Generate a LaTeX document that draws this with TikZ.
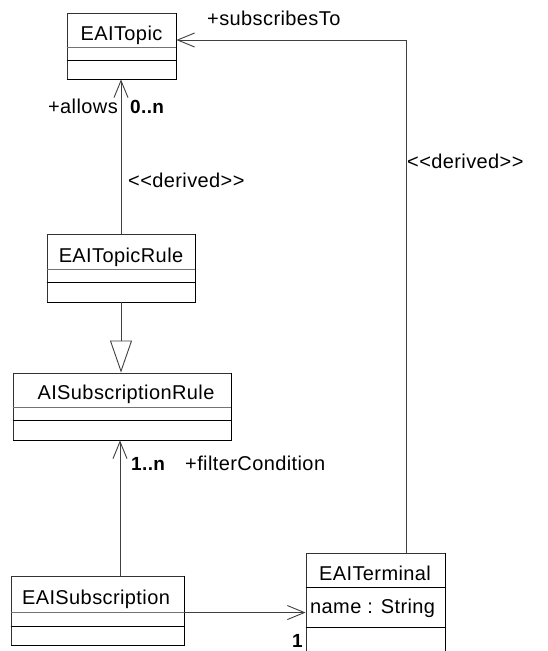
\documentclass[tikz,border=0pt]{standalone}
\usepackage{fontspec}
\newfontfamily\labfont{Liberation Sans}[LetterSpace=2]
\usetikzlibrary{arrows.meta,calc}
\tikzset{
  cls/.style={draw=black!80, line width=0.9pt, rectangle, inner sep=0pt, fill=white},
  txt/.style={font=\labfont\fontsize{20}{22}\selectfont, inner sep=0pt},
  mult/.style={font=\labfont\bfseries\fontsize{19}{22}\selectfont, inner sep=0pt},
  conn/.style={draw=black!75, line width=0.9pt},
  openarrow/.style={-{Straight Barb[length=17pt,width=14pt,line width=0.9pt]}},
  genarrow/.style={-{Triangle[open,length=32pt,width=22pt,line width=0.9pt,fill=white]}},
  divgray/.style={draw=black!55, line width=1pt},
  divblack/.style={draw=black, line width=1pt},
  shadowedge/.style={draw=black, line width=1.6pt}
}
\begin{document}
\begin{tikzpicture}[x=1pt,y=-1pt]
\useasboundingbox (0,0) rectangle (547,651);
\fill[white] (0,0) rectangle (547,651);
\begin{scope}
\clip (0,0) rectangle (547,651);
% classes
\node[cls, minimum width=109pt, minimum height=66pt] (topic) at (121.5,46) {};
\node[cls, minimum width=148pt, minimum height=68pt] (rule) at (121,268) {};
\node[cls, minimum width=218pt, minimum height=67pt] (subrule) at (122,406.5) {};
\node[cls, minimum width=173pt, minimum height=69pt] (subs) at (97.5,610.5) {};
\node[cls, minimum width=139pt, minimum height=107pt] (term) at (375.5,606.5) {};
% heavier right/bottom edges
\foreach \n in {topic,rule,subrule,subs,term}{
  \draw[shadowedge] (\n.north east) -- (\n.south east) -- (\n.south west);
}
% compartments
\draw[divgray] ($(topic.north west)+(0,35)$) -- ($(topic.north east)+(0,35)$);
\draw[divblack] ($(topic.north west)+(0,48)$) -- ($(topic.north east)+(0,48)$);
\draw[divgray] ($(rule.north west)+(0,36)$) -- ($(rule.north east)+(0,36)$);
\draw[divblack] ($(rule.north west)+(0,49)$) -- ($(rule.north east)+(0,49)$);
\draw[divgray] ($(subrule.north west)+(0,35)$) -- ($(subrule.north east)+(0,35)$);
\draw[divblack] ($(subrule.north west)+(0,48)$) -- ($(subrule.north east)+(0,48)$);
\draw[divgray] ($(subs.north west)+(0,37)$) -- ($(subs.north east)+(0,37)$);
\draw[divblack] ($(subs.north west)+(0,51)$) -- ($(subs.north east)+(0,51)$);
\draw[divblack] ($(term.north west)+(0,35)$) -- ($(term.north east)+(0,35)$);
\draw[divblack] ($(term.north west)+(0,75)$) -- ($(term.north east)+(0,75)$);
% class names
\node[txt, anchor=base] (topicname) at (121.5,40.5) {EAITopic};
\node[txt, anchor=base] (rulename) at (121,262) {EAITopicRule};
\node[txt, anchor=base] (subrulename) at (126,399) {AISubscriptionRule};
\node[txt, anchor=base] (subsname) at (96,604) {EAISubscription};
\node[txt, anchor=base] (termname) at (375,580) {EAITerminal};
\node[txt, anchor=base west] (termattr) at (310,613) {name : String};
% connectors
\coordinate (tcorner) at ($(term.north)+(30.5,0) $);
\coordinate (bend) at (tcorner |- 0,40);
\draw[conn, openarrow] (tcorner) -- (bend) -- (bend -| topic.east);
\draw[conn, openarrow] (rule.north) -- (rule.north |- topic.south);
\draw[conn, genarrow] (rule.south) -- (rule.south |- subrule.north);
\coordinate (fstart) at (120,0);
\draw[conn, openarrow] (fstart |- subs.north) -- (fstart |- subrule.south);
\coordinate (sstart) at ($(subs.north east)+(0,37)$);
\draw[conn, openarrow] (sstart) -- (sstart -| term.west);
% labels
\node[txt, anchor=base west] (lsub) at (207,25) {+subscribesTo};
\node[txt, anchor=base east] (lallows) at (118,113) {+allows};
\node[mult, anchor=base west] (lzero) at (130,113) {0..n};
\node[txt, anchor=base west] (lder1) at (128,187) {<<derived>>};
\node[txt, anchor=base west] (lder2) at (407,168) {<<derived>>};
\node[mult, anchor=base west] (lone) at (131,470) {1..n};
\node[txt, anchor=base west] (lfilter) at (185,470) {+filterCondition};
\node[mult, anchor=base east] (lone2) at (303,647) {1};
\end{scope}
\end{tikzpicture}
\end{document}
